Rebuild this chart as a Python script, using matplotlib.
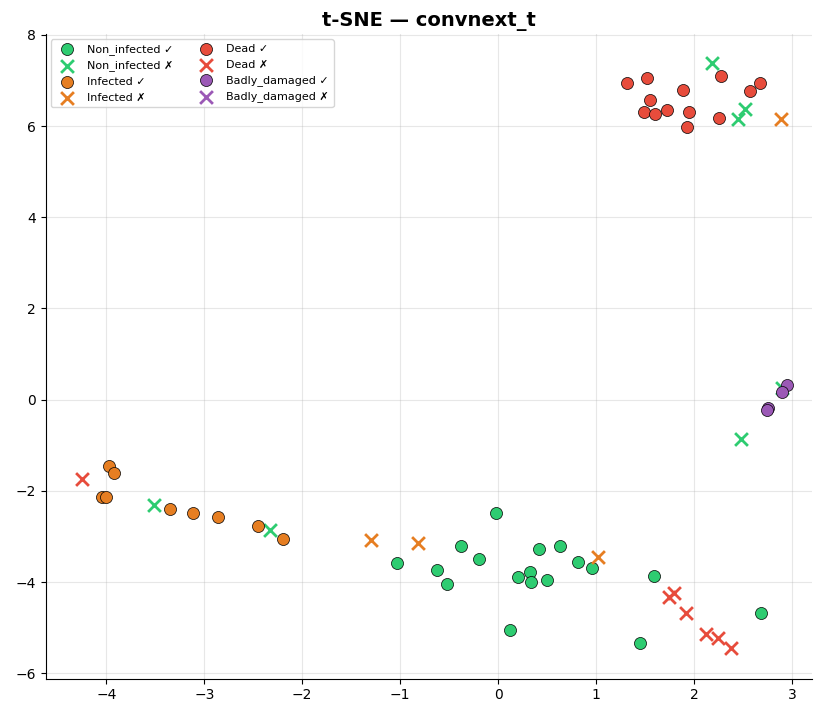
import matplotlib
matplotlib.use("Agg")
import matplotlib.pyplot as plt

classes = ["Non_infected", "Infected", "Dead", "Badly_damaged"]
colors = {"Non_infected": "#2ecc71", "Infected": "#e67e22",
          "Dead": "#e74c3c", "Badly_damaged": "#9b59b6"}

# correctly classified (circles)
ok_pts = {
    "Non_infected": [(-0.02, -2.48), (-1.03, -3.58), (-0.62, -3.74), (-0.52, -4.04),
                     (-0.38, -3.21), (-0.20, -3.49), (0.20, -3.89), (0.33, -3.77),
                     (0.34, -4.00), (0.50, -3.96), (0.42, -3.28), (0.63, -3.20),
                     (0.82, -3.57), (0.96, -3.70), (1.59, -3.87), (0.12, -5.06),
                     (1.45, -5.34), (2.68, -4.67)],
    "Infected": [(-3.97, -1.46), (-3.92, -1.60), (-4.04, -2.13), (-4.00, -2.13),
                 (-3.35, -2.39), (-3.11, -2.49), (-2.86, -2.58), (-2.45, -2.78),
                 (-2.20, -3.05)],
    "Dead": [(1.32, 6.94), (1.52, 7.06), (1.55, 6.58), (1.49, 6.31), (1.60, 6.26),
             (1.72, 6.36), (1.89, 6.80), (1.95, 6.31), (1.93, 5.98), (2.28, 7.09),
             (2.25, 6.17), (2.57, 6.77), (2.67, 6.95)],
    "Badly_damaged": [(2.95, 0.33), (2.90, 0.17), (2.76, -0.18), (2.74, -0.22)],
}

# misclassified (crosses), coloured by true class
bad_pts = {
    "Non_infected": [(2.18, 7.39), (2.52, 6.38), (2.45, 6.15), (2.48, -0.86),
                     (2.90, 0.26), (-3.51, -2.32), (-2.33, -2.85)],
    "Infected": [(-1.30, -3.07), (-0.82, -3.15), (1.02, -3.46), (2.89, 6.16)],
    "Dead": [(-4.25, -1.73), (1.74, -4.32), (1.80, -4.25), (1.92, -4.68),
             (2.12, -5.14), (2.24, -5.22), (2.38, -5.45)],
    "Badly_damaged": [],
}

fig, ax = plt.subplots(figsize=(8.14, 7.07), dpi=100)
fig.subplots_adjust(left=0.056, right=0.997, top=0.952, bottom=0.04)

for c in classes:
    p = ok_pts[c]
    ax.scatter([q[0] for q in p], [q[1] for q in p], s=75, c=colors[c],
               edgecolors="black", linewidths=0.5, marker="o",
               label=f"{c} \u2713", zorder=3)
    p = bad_pts[c]
    ax.scatter([q[0] for q in p], [q[1] for q in p], s=85, c=colors[c],
               marker="x", linewidths=2, label=f"{c} \u2717", zorder=3)

ax.set_xlim(-4.62, 3.2)
ax.set_ylim(-6.12, 8.02)
ax.grid(True, alpha=0.3)
ax.spines["top"].set_visible(False)
ax.spines["right"].set_visible(False)
ax.set_title("t-SNE \u2014 convnext_t", fontsize=14, fontweight="bold")
ax.legend(ncol=2, fontsize=8, loc="upper left")

fig.savefig("out.png", dpi=100)
